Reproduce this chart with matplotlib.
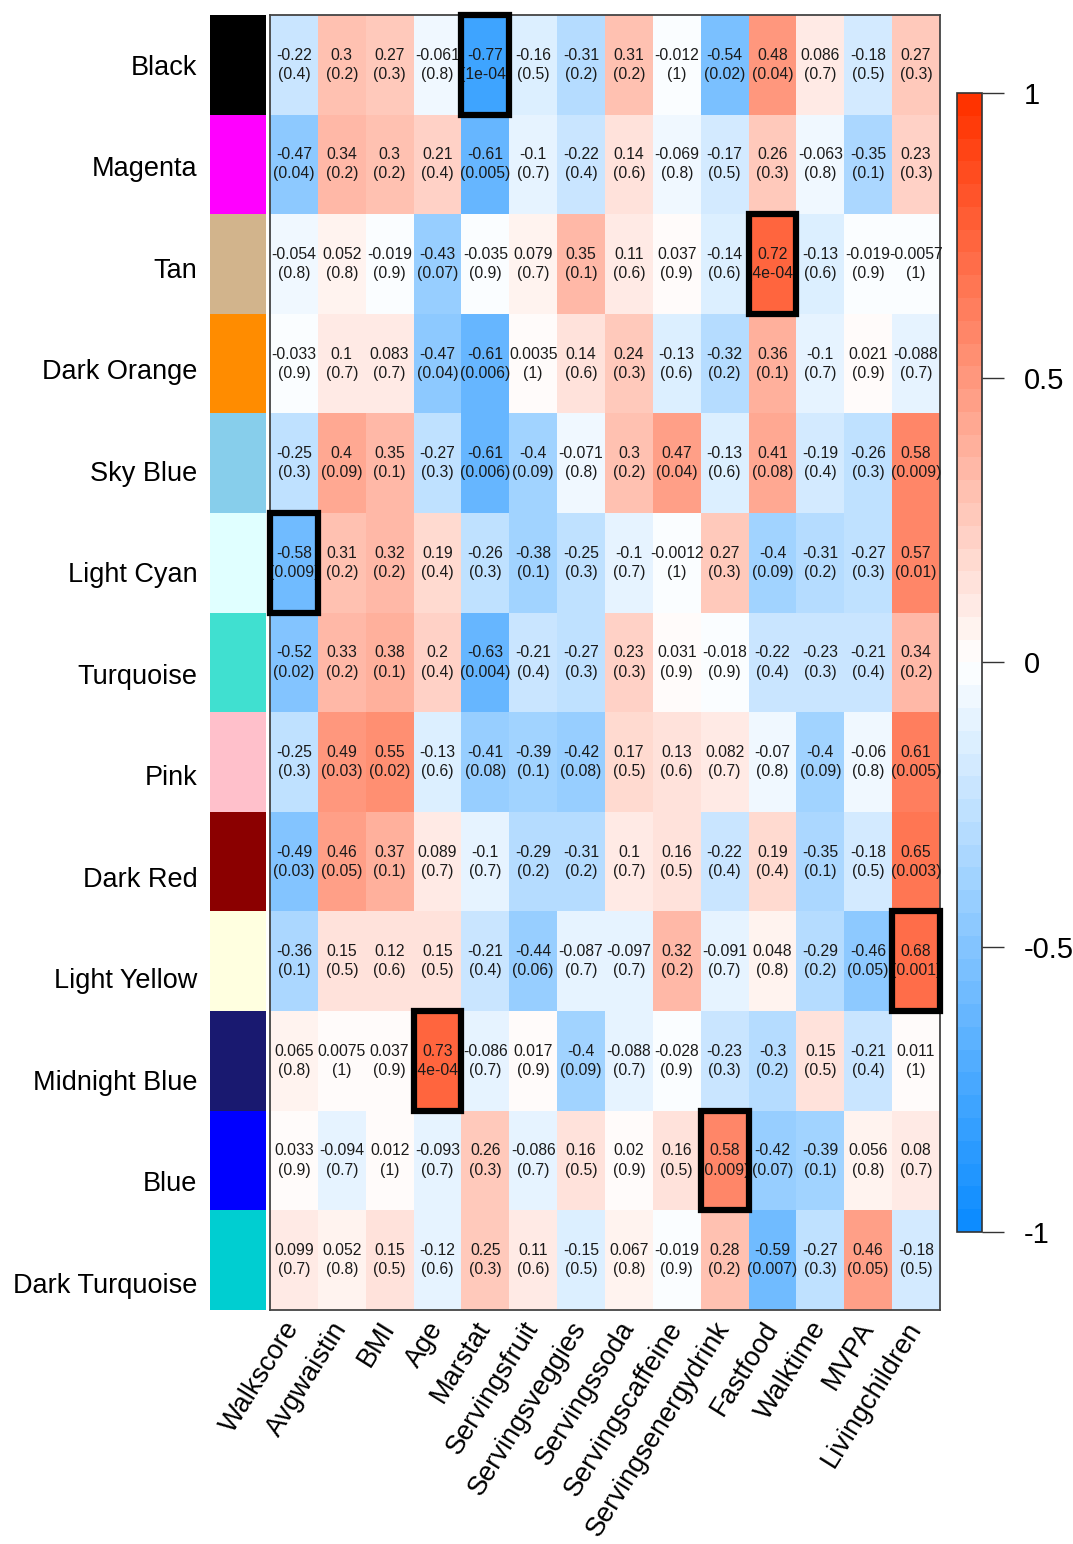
import numpy as np
import matplotlib
matplotlib.use('Agg')
import matplotlib.pyplot as plt
from matplotlib.colors import LinearSegmentedColormap, ListedColormap
from matplotlib.patches import Rectangle

plt.rcParams['font.family'] = ['Liberation Sans', 'DejaVu Sans']
plt.rcParams['axes.unicode_minus'] = False

# module eigengenes (rows) and traits (columns)
modules = ['Black', 'Magenta', 'Tan', 'Dark Orange', 'Sky Blue', 'Light Cyan', 'Turquoise',
           'Pink', 'Dark Red', 'Light Yellow', 'Midnight Blue', 'Blue', 'Dark Turquoise']
module_colors = ['black', 'magenta', 'tan', 'darkorange', 'skyblue', 'lightcyan', 'turquoise',
                 'pink', 'darkred', 'lightyellow', 'midnightblue', 'blue', 'darkturquoise']
traits = ['Walkscore', 'Avgwaistin', 'BMI', 'Age', 'Marstat', 'Servingsfruit', 'Servingsveggies',
          'Servingssoda', 'Servingscaffeine', 'Servingsenergydrink', 'Fastfood', 'Walktime',
          'MVPA', 'Livingchildren']

cor = np.array([
    [-0.22, 0.3, 0.27, -0.061, -0.77, -0.16, -0.31, 0.31, -0.012, -0.54, 0.48, 0.086, -0.18, 0.27],
    [-0.47, 0.34, 0.3, 0.21, -0.61, -0.1, -0.22, 0.14, -0.069, -0.17, 0.26, -0.063, -0.35, 0.23],
    [-0.054, 0.052, -0.019, -0.43, -0.035, 0.079, 0.35, 0.11, 0.037, -0.14, 0.72, -0.13, -0.019, -0.0057],
    [-0.033, 0.1, 0.083, -0.47, -0.61, 0.0035, 0.14, 0.24, -0.13, -0.32, 0.36, -0.1, 0.021, -0.088],
    [-0.25, 0.4, 0.35, -0.27, -0.61, -0.4, -0.071, 0.3, 0.47, -0.13, 0.41, -0.19, -0.26, 0.58],
    [-0.58, 0.31, 0.32, 0.19, -0.26, -0.38, -0.25, -0.1, -0.0012, 0.27, -0.4, -0.31, -0.27, 0.57],
    [-0.52, 0.33, 0.38, 0.2, -0.63, -0.21, -0.27, 0.23, 0.031, -0.018, -0.22, -0.23, -0.21, 0.34],
    [-0.25, 0.49, 0.55, -0.13, -0.41, -0.39, -0.42, 0.17, 0.13, 0.082, -0.07, -0.4, -0.06, 0.61],
    [-0.49, 0.46, 0.37, 0.089, -0.1, -0.29, -0.31, 0.1, 0.16, -0.22, 0.19, -0.35, -0.18, 0.65],
    [-0.36, 0.15, 0.12, 0.15, -0.21, -0.44, -0.087, -0.097, 0.32, -0.091, 0.048, -0.29, -0.46, 0.68],
    [0.065, 0.0075, 0.037, 0.73, -0.086, 0.017, -0.4, -0.088, -0.028, -0.23, -0.3, 0.15, -0.21, 0.011],
    [0.033, -0.094, 0.012, -0.093, 0.26, -0.086, 0.16, 0.02, 0.16, 0.58, -0.42, -0.39, 0.056, 0.08],
    [0.099, 0.052, 0.15, -0.12, 0.25, 0.11, -0.15, 0.067, -0.019, 0.28, -0.59, -0.27, 0.46, -0.18],
])

pval = np.array([
    [0.4, 0.2, 0.3, 0.8, 1e-04, 0.5, 0.2, 0.2, 1, 0.02, 0.04, 0.7, 0.5, 0.3],
    [0.04, 0.2, 0.2, 0.4, 0.005, 0.7, 0.4, 0.6, 0.8, 0.5, 0.3, 0.8, 0.1, 0.3],
    [0.8, 0.8, 0.9, 0.07, 0.9, 0.7, 0.1, 0.6, 0.9, 0.6, 4e-04, 0.6, 0.9, 1],
    [0.9, 0.7, 0.7, 0.04, 0.006, 1, 0.6, 0.3, 0.6, 0.2, 0.1, 0.7, 0.9, 0.7],
    [0.3, 0.09, 0.1, 0.3, 0.006, 0.09, 0.8, 0.2, 0.04, 0.6, 0.08, 0.4, 0.3, 0.009],
    [0.009, 0.2, 0.2, 0.4, 0.3, 0.1, 0.3, 0.7, 1, 0.3, 0.09, 0.2, 0.3, 0.01],
    [0.02, 0.2, 0.1, 0.4, 0.004, 0.4, 0.3, 0.3, 0.9, 0.9, 0.4, 0.3, 0.4, 0.2],
    [0.3, 0.03, 0.02, 0.6, 0.08, 0.1, 0.08, 0.5, 0.6, 0.7, 0.8, 0.09, 0.8, 0.005],
    [0.03, 0.05, 0.1, 0.7, 0.7, 0.2, 0.2, 0.7, 0.5, 0.4, 0.4, 0.1, 0.5, 0.003],
    [0.1, 0.5, 0.6, 0.5, 0.4, 0.06, 0.7, 0.7, 0.2, 0.7, 0.8, 0.2, 0.05, 0.001],
    [0.8, 1, 0.9, 4e-04, 0.7, 0.9, 0.09, 0.7, 0.9, 0.3, 0.2, 0.5, 0.4, 1],
    [0.9, 0.7, 1, 0.7, 0.3, 0.7, 0.5, 0.9, 0.5, 0.009, 0.07, 0.1, 0.8, 0.7],
    [0.7, 0.8, 0.5, 0.6, 0.3, 0.6, 0.5, 0.8, 0.9, 0.2, 0.007, 0.3, 0.05, 0.5],
])

# (module, trait) cells outlined in black
boxed = [(0, 4), (2, 10), (5, 0), (9, 13), (10, 3), (11, 9)]


def fmt_p(p):
    if p < 0.001:
        return '%.0e' % p
    return '%g' % p


n_rows, n_cols = cor.shape
cmap = LinearSegmentedColormap.from_list('blueWhiteRed', [(0.05, 0.55, 1.0), (1, 1, 1), (1.0, 0.2, 0.0)], N=50)

fig = plt.figure(figsize=(10.73, 15.44), dpi=100)

# main heatmap
ax = fig.add_axes([0.2516, 0.1516, 0.6244, 0.8387])
im = ax.pcolormesh(cor, cmap=cmap, vmin=-1, vmax=1)
ax.set_xlim(0, n_cols)
ax.set_ylim(n_rows, 0)
for i in range(n_rows):
    for j in range(n_cols):
        ax.text(j + 0.5, i + 0.5, '%g\n(%s)' % (cor[i, j], fmt_p(pval[i, j])),
                ha='center', va='center', fontsize=11.3, color='#1a1a1a', linespacing=1.35)
for i, j in boxed:
    ax.add_patch(Rectangle((j, i), 1, 1, fill=False, ec='black', lw=4.5, clip_on=False, zorder=5))
ax.set_yticks([])
ax.set_xticks(np.arange(n_cols) + 0.5)
ax.set_xticklabels(traits, rotation=58, ha='right', va='center', rotation_mode='anchor', fontsize=19.5)
ax.tick_params(axis='x', length=0, pad=10)
for s in ax.spines.values():
    s.set_color('#444444')
    s.set_linewidth(1.3)

# module colour strip
ax_m = fig.add_axes([0.1957, 0.1516, 0.0522, 0.8387])
ax_m.pcolormesh(np.arange(n_rows).reshape(-1, 1), cmap=ListedColormap(module_colors), vmin=-0.5, vmax=n_rows - 0.5)
ax_m.set_xlim(0, 1)
ax_m.set_ylim(n_rows, 0)
ax_m.set_xticks([])
ax_m.set_yticks(np.arange(n_rows) + 0.5 + np.arange(n_rows) * 0.019)
ax_m.set_yticklabels(modules, fontsize=19.5)
ax_m.tick_params(axis='y', length=0, pad=9)
for s in ax_m.spines.values():
    s.set_visible(False)

# colour scale
cax = fig.add_axes([0.8919, 0.2021, 0.0233, 0.7377])
cb = fig.colorbar(im, cax=cax, ticks=[-1, -0.5, 0, 0.5, 1])
cb.set_ticklabels(['-1', '-0.5', '0', '0.5', '1'])
cb.outline.set_edgecolor('#333333')
cb.outline.set_linewidth(1.2)
cax.tick_params(length=16, width=1, labelsize=21, pad=14, color='#333333')

fig.savefig('out.png', dpi=100)
